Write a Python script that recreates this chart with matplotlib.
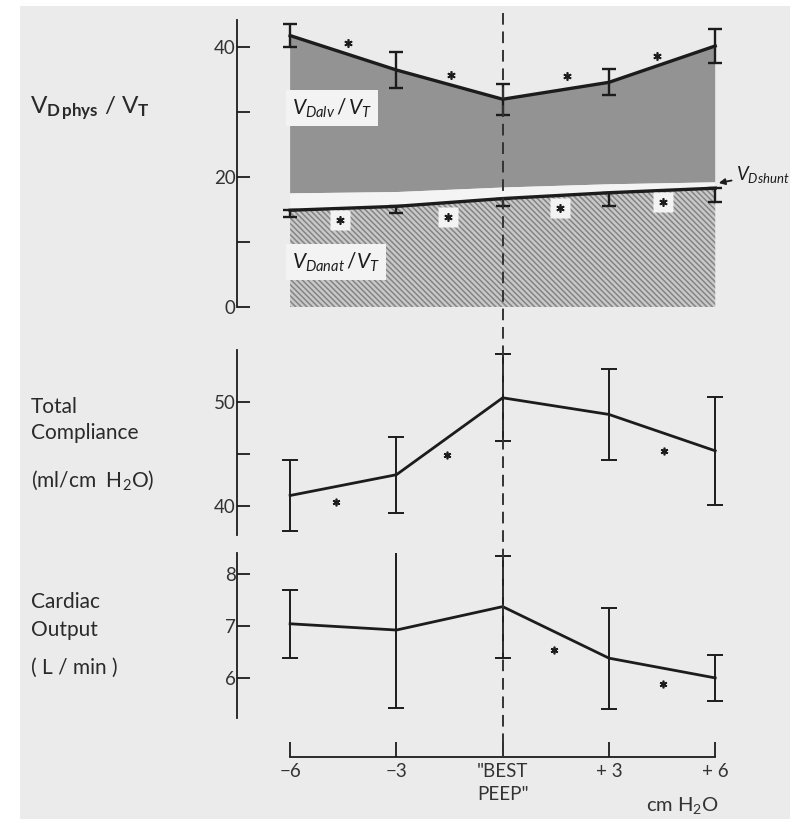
import matplotlib
matplotlib.use("Agg")
import matplotlib.pyplot as plt
from matplotlib.patches import Rectangle
from matplotlib.transforms import blended_transform_factory
import numpy as np

plt.rcParams["font.family"] = ["Lato", "DejaVu Sans"]
plt.rcParams["mathtext.fontset"] = "custom"
plt.rcParams["mathtext.rm"] = "Lato"
plt.rcParams["mathtext.it"] = "Lato:italic"
plt.rcParams["mathtext.bf"] = "Lato:bold"
plt.rcParams["hatch.linewidth"] = 1.1

# PEEP steps (cm H2O relative to "best PEEP")
peep = np.array([-6, -3, 0, 3, 6])
peep_labels = ["\u22126", "\u22123", "\"BEST\nPEEP\"", "+ 3", "+ 6"]

# Dead space fractions (%)
vd_phys = np.array([41.8, 36.5, 32.0, 34.6, 40.2])
vd_phys_sd = np.array([1.8, 2.7, 2.4, 2.0, 2.6])
vd_anat = np.array([14.9, 15.5, 16.7, 17.6, 18.3])
vd_anat_sd = np.array([1.1, 1.1, 1.1, 2.0, 2.1])
vd_shunt = np.array([2.6, 2.2, 1.7, 1.3, 0.9])

# Total compliance (ml/cm H2O)
compliance = np.array([41.0, 43.0, 50.4, 48.8, 45.3])
compliance_sd = np.array([3.45, 3.65, 4.2, 4.4, 5.2])

# Cardiac output (L/min)
cardiac = np.array([7.04, 6.92, 7.37, 6.38, 6.00])
cardiac_sd = np.array([0.65, 1.5, 0.98, 0.97, 0.44])

# Significance marks (x, y) per panel
stars_phys_x = [-4.36, -1.45, 1.82, 4.37]
stars_phys_y = [40.6, 35.7, 35.5, 38.6]
stars_anat_x = [-4.59, -1.54, 1.63, 4.54]
stars_anat_y = [13.4, 13.8, 15.2, 16.2]
stars_comp_x = [-4.7, -1.56, 4.56]
stars_comp_y = [40.4, 44.9, 45.3]
stars_co_x = [1.46, 4.54]
stars_co_y = [6.54, 5.88]

W, H = 790, 821
INK = "#1c1c1c"
PAPER = "#ebebeb"
BOX = "#f3f3f3"

fig = plt.figure(figsize=(W / 100, H / 100), dpi=100, facecolor="white")
fig.patches.append(Rectangle((20 / W, 0.002), 1 - 20 / W, 1 - 6 / H - 0.002,
                             transform=fig.transFigure, facecolor=PAPER,
                             edgecolor="none", zorder=-10))

XL = (-7.5, 6.7)
LEFT = 237 / W
WIDTH = 503 / W


def frac_y(px):
    return (H - px) / H


def make_axes(top_px, bottom_px, ylim, ticks, labels):
    ax = fig.add_axes([LEFT, frac_y(bottom_px), WIDTH, (bottom_px - top_px) / H])
    ax.set_facecolor("none")
    ax.set_xlim(*XL)
    ax.set_ylim(*ylim)
    for s in ("top", "right", "bottom"):
        ax.spines[s].set_visible(False)
    ax.spines["left"].set_color(INK)
    ax.spines["left"].set_linewidth(1.3)
    ax.set_xticks([])
    ax.set_yticks(ticks, labels)
    ax.tick_params(axis="y", direction="in", length=9.5, width=1.3,
                   color=INK, labelcolor="#333333", labelsize=13.5, pad=1)
    return ax


def stars(ax, xs, ys, boxed=False, size=6):
    if boxed:
        ax.plot(xs, ys, ls="none", marker="s", ms=size * 2.3, mfc=BOX,
                mec="none", zorder=5)
    ax.plot(xs, ys, ls="none", marker=(6, 2, 0), ms=size, mec=INK,
            mew=1.2, zorder=6)


# ---- Dead space panel ----
ax1 = make_axes(20, 307, (0, 44.2), [0, 10, 20, 30, 40],
                ["0", "", "20", "", "40"])
ax1.fill_between(peep, vd_anat + vd_shunt, vd_phys, facecolor="#939393",
                 edgecolor="none", zorder=1)
ax1.fill_between(peep, 0, vd_anat, facecolor="#c9c9c9", edgecolor="#848484",
                 hatch="\\\\\\\\\\\\", linewidth=0, zorder=1)
ax1.fill_between(peep, vd_anat, vd_anat + vd_shunt, facecolor="#f4f4f4",
                 edgecolor="none", zorder=1)
ax1.errorbar(peep, vd_phys, yerr=vd_phys_sd, color=INK, lw=2.4,
             elinewidth=1.7, capsize=5, capthick=1.7, zorder=4)
ax1.errorbar(peep, vd_anat, yerr=[vd_anat_sd, np.zeros_like(vd_anat_sd)],
             color=INK, lw=2.4, elinewidth=1.7, capsize=5, capthick=1.7,
             zorder=4)
stars(ax1, stars_phys_x, stars_phys_y, size=6)
stars(ax1, stars_anat_x, stars_anat_y, boxed=True, size=6)
ax1.text(-5.95, 30.6, r"$\mathit{V_{Dalv}}\,/\,\mathit{V_T}$", ha="left",
         va="center", fontsize=15, color=INK, zorder=5,
         bbox=dict(boxstyle="square,pad=0.3", facecolor=BOX,
                   edgecolor="none"))
ax1.text(-5.95, 6.9, r"$\mathit{V_{Danat}}\,/\mathit{V_T}$", ha="left",
         va="center", fontsize=15, color=INK, zorder=5,
         bbox=dict(boxstyle="square,pad=0.3", facecolor=BOX,
                   edgecolor="none"))
ax1.annotate(r"$\mathit{V_{Dshunt}}$", xy=(6.1, vd_anat[-1] + vd_shunt[-1] - 0.1),
             xytext=(6.58, 20.4), ha="left", va="center", fontsize=13.5,
             color=INK, annotation_clip=False,
             arrowprops=dict(arrowstyle="-|>", color=INK, lw=1.3,
                             shrinkA=1, shrinkB=0, mutation_scale=9))

# ---- Compliance panel ----
ax2 = make_axes(350, 535, (37.2, 55), [40, 45, 50], ["40", "", "50"])
ax2.errorbar(peep, compliance, yerr=compliance_sd, color=INK, lw=2.0,
             elinewidth=1.4, capsize=5.5, capthick=1.4, zorder=4)
stars(ax2, stars_comp_x, stars_comp_y, size=5.5)

# ---- Cardiac output panel ----
ax3 = make_axes(553, 718, (5.23, 8.4), [6, 7, 8], ["6", "7", "8"])
ax3.errorbar(peep, cardiac, yerr=cardiac_sd, color=INK, lw=2.0,
             elinewidth=1.4, capsize=5.5, capthick=1.4, zorder=4)
stars(ax3, stars_co_x, stars_co_y, size=5.5)

# ---- shared PEEP axis ----
axx = fig.add_axes([LEFT, frac_y(757), WIDTH, 0.03])
axx.set_facecolor("none")
axx.set_xlim(*XL)
axx.set_ylim(0, 1)
for s in ("top", "right", "left"):
    axx.spines[s].set_visible(False)
axx.spines["bottom"].set_bounds(peep[0], peep[-1])
axx.spines["bottom"].set_color(INK)
axx.spines["bottom"].set_linewidth(1.3)
axx.set_yticks([])
axx.set_xticks(peep, peep_labels)
axx.tick_params(axis="x", direction="in", length=10.5, width=1.3, color=INK,
                labelcolor="#333333", labelsize=13.5, pad=4)
for lab in axx.get_xticklabels():
    lab.set_linespacing(1.45)
fig.text(682 / W, frac_y(805), r"cm H$_2$O", ha="center", va="center",
         fontsize=14.5, color="#333333")

# dashed marker at best PEEP through all panels
trans = blended_transform_factory(axx.transData, fig.transFigure)
fig.add_artist(plt.Line2D([peep[2], peep[2]], [frac_y(13), frac_y(757)],
                          transform=trans, color="#333333", lw=1.4,
                          dashes=(6, 3.5), zorder=10))

# ---- row labels ----
lab_kw = dict(ha="left", va="center", color="#2a2a2a")
fig.text(30 / W, frac_y(108), r"V$_{\mathbf{D\,phys}}$ / V$_\mathbf{T}$",
         fontsize=17.5, **lab_kw)
fig.text(31 / W, frac_y(407), "Total", fontsize=15, **lab_kw)
fig.text(31 / W, frac_y(433), "Compliance", fontsize=15, **lab_kw)
fig.text(31 / W, frac_y(480), r"(ml/cm  H$_2$O)", fontsize=15, **lab_kw)
fig.text(31 / W, frac_y(602), "Cardiac", fontsize=15, **lab_kw)
fig.text(31 / W, frac_y(630), "Output", fontsize=15, **lab_kw)
fig.text(31 / W, frac_y(668), "( L / min )", fontsize=15, **lab_kw)

fig.savefig("out.png", dpi=100, facecolor="white")
